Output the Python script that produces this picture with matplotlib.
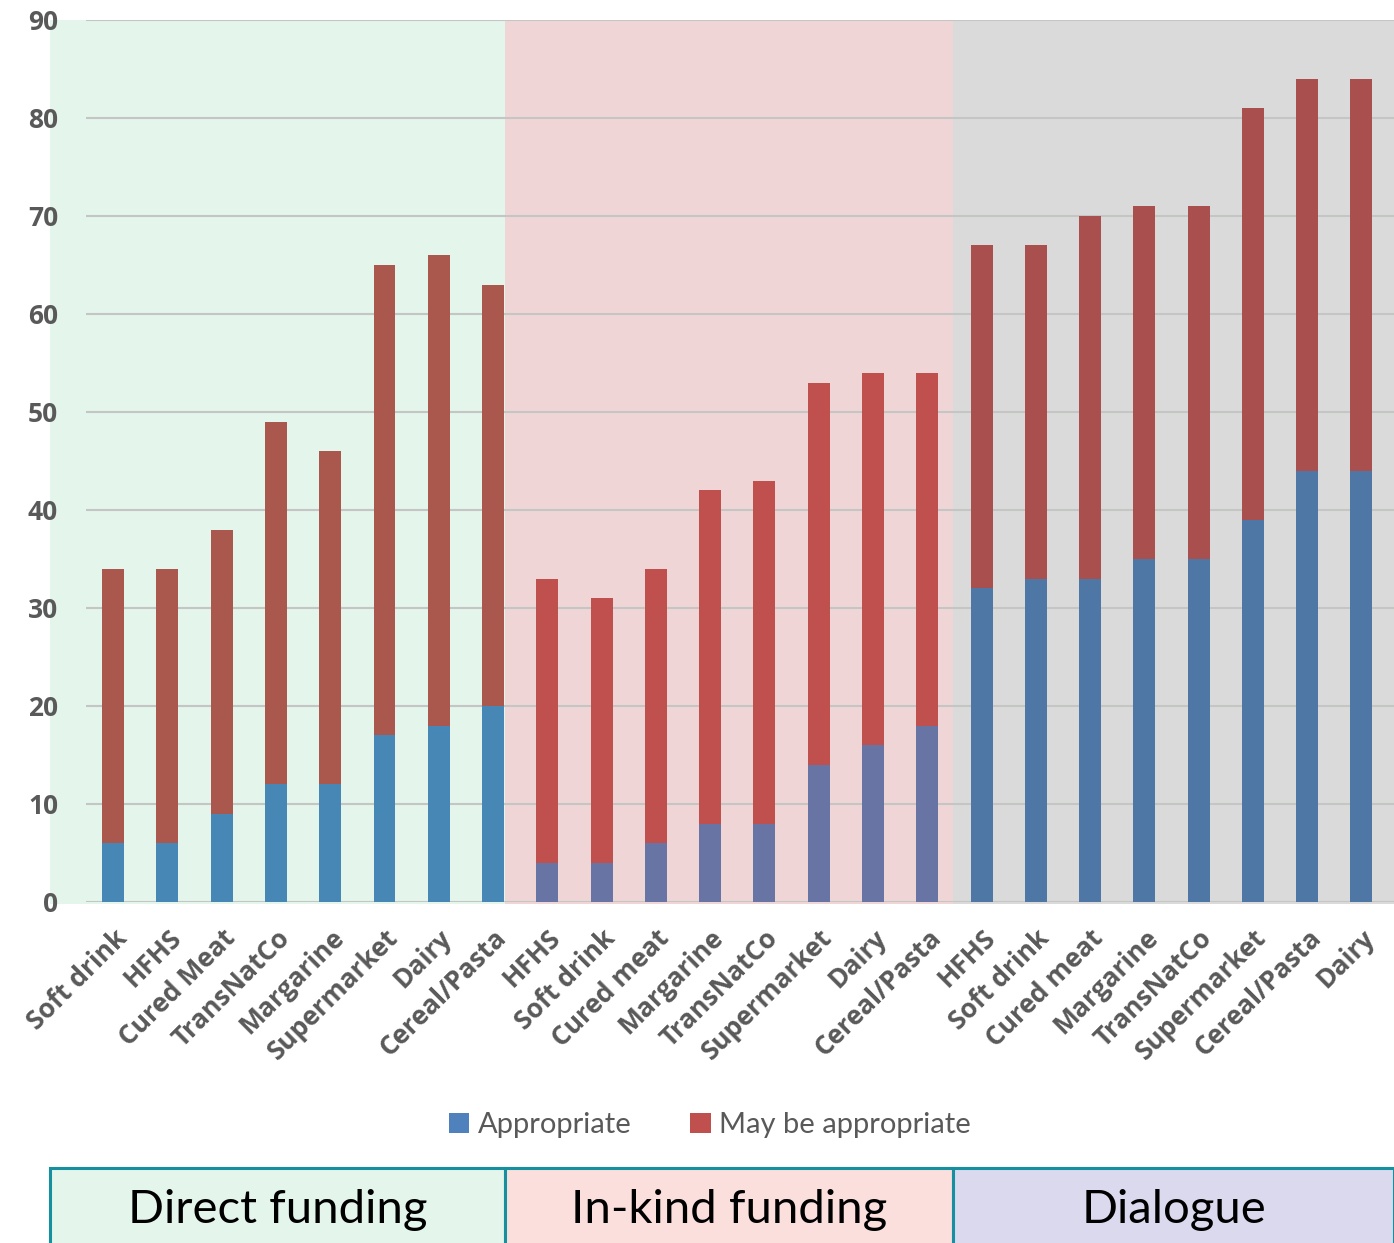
import matplotlib.pyplot as plt
from matplotlib.patches import Rectangle
import numpy as np

# Data
groups = ['Direct funding', 'In-kind funding', 'Dialogue']
labels = ['Soft drink', 'HFHS', 'Cured Meat', 'TransNatCo', 'Margarine', 'Supermarket', 'Dairy', 'Cereal/Pasta',
          'HFHS', 'Soft drink', 'Cured meat', 'Margarine', 'TransNatCo', 'Supermarket', 'Dairy', 'Cereal/Pasta',
          'HFHS', 'Soft drink', 'Cured meat', 'Margarine', 'TransNatCo', 'Supermarket', 'Cereal/Pasta', 'Dairy']
appropriate = [6, 6, 9, 12, 12, 17, 18, 20,
               4, 4, 6, 8, 8, 14, 16, 18,
               32, 33, 33, 35, 35, 39, 44, 44]
total = [34, 34, 38, 49, 46, 65, 66, 63,
         33, 31, 34, 42, 43, 53, 54, 54,
         67, 67, 70, 71, 71, 81, 84, 84]
may_be = [t - a for t, a in zip(total, appropriate)]

# colours as they look under each shaded panel
blue_cols = ['#4787B5', '#6874A4', '#4E77A6']
red_cols = ['#AA584D', '#C0504D', '#A9504E']
shade_cols = ['#E4F5EC', '#F0D5D6', '#DADADA']
box_cols = ['#E4F5EC', '#FADFDC', '#DAD9EE']

W, H = 1394, 1243
fig = plt.figure(figsize=(W / 100, H / 100), dpi=100)

def fx(px):
    return px / W

def fy(py):
    return 1 - py / H

ax = fig.add_axes([fx(86), fy(902), fx(1394) - fx(86), fy(20) - fy(902)])
ax.set_facecolor('none')
ax.set_zorder(5)

# shaded panels behind the plot
edges = [50, 505, 953, 1394]
for i in range(3):
    fig.patches.append(Rectangle((fx(edges[i]), fy(904)), fx(edges[i + 1]) - fx(edges[i]), fy(20) - fy(904),
                                 transform=fig.transFigure, facecolor=shade_cols[i], edgecolor='none', zorder=0))

x = np.arange(len(labels))
grp = x // 8
bc = [blue_cols[g] for g in grp]
rc = [red_cols[g] for g in grp]
ax.bar(x, appropriate, width=0.405, color=bc, zorder=3, label='Appropriate')
ax.bar(x, may_be, bottom=appropriate, width=0.405, color=rc, zorder=3, label='May be appropriate')

ax.set_xlim(-0.5, 23.6)
ax.set_ylim(0, 90)
ax.set_yticks(range(0, 91, 10))
ax.yaxis.grid(True, color='#C4C6C4', linewidth=1.5, zorder=1)
ax.set_axisbelow(True)
for s in ax.spines.values():
    s.set_visible(False)
ax.tick_params(length=0)
ax.tick_params(axis='y', pad=20)

ax.set_yticklabels([str(v) for v in range(0, 91, 10)], fontsize=19, fontweight='bold',
                   color='#595959', family='Open Sans')
ax.set_xticks(x)
ax.set_xticklabels(labels, rotation=45, ha='right', rotation_mode='anchor', fontsize=19,
                   fontweight='bold', color='#595959', family='Open Sans')
ax.tick_params(axis='x', pad=16)

# legend
h1 = Rectangle((0, 0), 1, 1, facecolor='#4F81BD')
h2 = Rectangle((0, 0), 1, 1, facecolor='#C0504D')
fig.legend([h1, h2], ['Appropriate', 'May be appropriate'], loc='center', bbox_to_anchor=(fx(710), fy(1125)),
           ncol=2, frameon=False, handlelength=0.7, handleheight=0.7, handletextpad=0.3, columnspacing=2.0,
           prop={'family': 'Lato', 'size': 21}, labelcolor='#595959')

# bottom boxes
for i in range(3):
    fig.patches.append(Rectangle((fx(edges[i]), fy(1250)), fx(edges[i + 1]) - fx(edges[i]), fy(1168) - fy(1250),
                                 transform=fig.transFigure, facecolor=box_cols[i], edgecolor='#16909E',
                                 linewidth=2.2, zorder=1))
    fig.text(fx((edges[i] + edges[i + 1]) / 2), fy(1210), groups[i], ha='center', va='center',
             fontsize=34, family='Lato', color='black')

fig.savefig('out.png', dpi=100)
